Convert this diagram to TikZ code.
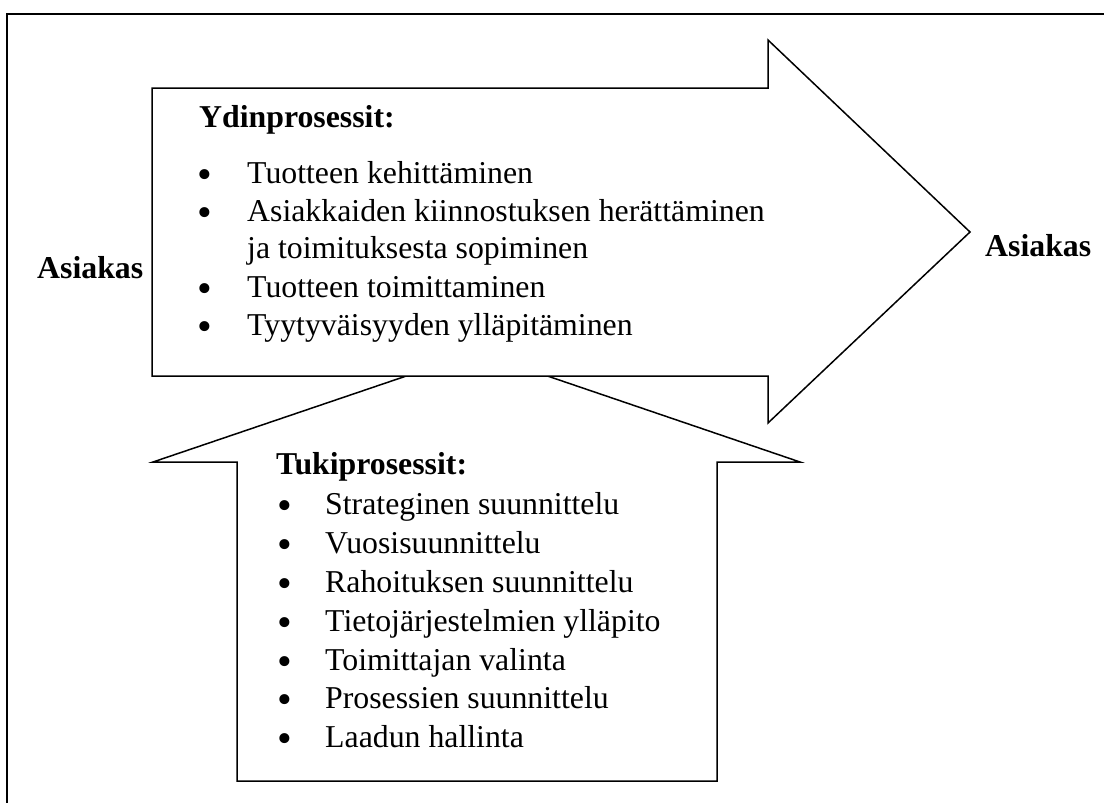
\documentclass[tikz,border=0pt]{standalone}
\usepackage{fontspec}
\setmainfont{Liberation Serif}
\begin{document}
\begin{tikzpicture}[x=1pt,y=-1pt,
  arrowshape/.style={draw=black,line width=1.5pt,fill=white,line join=miter},
  frameline/.style={draw=black,line width=2.2pt},
  txt/.style={inner sep=0pt,anchor=base west,font=\fontsize{31.8}{36}\selectfont},
  head/.style={txt,font=\fontsize{31.8}{36}\selectfont\bfseries},
  bul/.style={inner sep=0pt,anchor=base,font=\fontsize{42}{42}\selectfont}]
\useasboundingbox (0,0) rectangle (1104,803);
\begin{scope}
\clip (0,0) rectangle (1104,803);
% outer frame (only its top and left sides fall inside the page)
\draw[frameline] (1120,14) -- (7,14) -- (7,820);
\end{scope}

% support processes: upward arrow, tip hidden behind the core arrow
\path[arrowshape] (237,781) -- (237,462) -- (153,462) -- (477,352) -- (800,462)
  -- (717,462) -- (717,781) -- cycle;
% core processes: rightward arrow
\path[arrowshape] (152,88) -- (768,88) -- (768,40) -- (970,232) -- (768,423)
  -- (768,376) -- (152,376) -- cycle;

\node[head] (asl) at (37,278) {Asiakas};
\node[head] (asr) at (985,256) {Asiakas};

\node[head] (yh) at (199,127) {Ydinprosessit:};
\foreach \y/\t/\b [count=\i] in {183/Tuotteen kehittäminen/1,
    221/Asiakkaiden kiinnostuksen herättäminen/1,
    258/ja toimituksesta sopiminen/0,
    297/Tuotteen toimittaminen/1,
    335/Tyytyväisyyden ylläpitäminen/1}{
  \node[txt] (y\i) at (247,\y) {\t};
  \ifnum\b=1 \node[bul] (yb\i) at (205,\y+5) {•};\fi
}

\node[head] (th) at (276,474) {Tukiprosessit:};
\foreach \y/\t [count=\i] in {514/Strateginen suunnittelu,
    553/Vuosisuunnittelu,
    592/Rahoituksen suunnittelu,
    631/Tietojärjestelmien ylläpito,
    670/Toimittajan valinta,
    708/Prosessien suunnittelu,
    747/Laadun hallinta}{
  \node[txt] (t\i) at (325,\y) {\t};
  \node[bul] (tb\i) at (285,\y+5) {•};
}
\end{tikzpicture}
\end{document}
